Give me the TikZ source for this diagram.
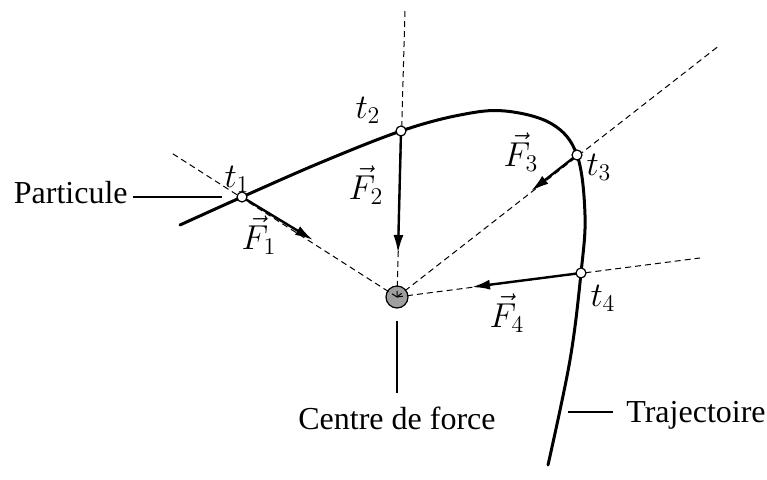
\documentclass[tikz,border=0pt]{standalone}
\usepackage{fontspec}
\setmainfont{Liberation Serif}
\usetikzlibrary{arrows.meta, calc}

\begin{document}
\begin{tikzpicture}[
  x=0.5pt, y=-0.5pt,
  >={Latex[length=9pt, width=5pt]},
  traj/.style={line width=1.5pt, line cap=round},
  axe/.style={dashed, dash pattern=on 3pt off 2pt, line width=0.5pt},
  force/.style={->, line width=1.2pt},
  pt/.style={circle, draw, fill=white, line width=0.6pt,
             inner sep=0pt, minimum size=5pt},
  lbl/.style={font=\fontsize{16}{19}\selectfont, inner sep=0pt},
  mlbl/.style={font=\fontsize{17.5}{20}\selectfont, inner sep=0pt},
  lien/.style={line width=0.6pt}
]
  \useasboundingbox (0,0) rectangle (767,480);

  %--- centre de force ---
  \node[circle, draw, fill=gray!75, line width=0.6pt, inner sep=0pt,
        minimum size=11pt] (o) at (397,297) {};

  %--- points de la trajectoire ---
  \coordinate (p1) at (242,197);
  \coordinate (p2) at (401,131);
  \coordinate (p3) at (577,155);
  \coordinate (p4) at (581,273);

  %--- droites d'action ---
  \coordinate (e1) at (170,152);
  \coordinate (e2) at (405,10);
  \coordinate (e3) at (720,45);
  \coordinate (e4) at (700,258);
  \foreach \i in {1,...,4}
    \draw[axe] (o.center) -- (e\i);

  %--- trajectoire ---
  \draw[traj] plot[smooth, tension=0.6] coordinates {
    (180,225) (p1) (322,162) (p2) (460,115) (505,111) (552,124)
    (p3) (585,215) (p4) (570,360) (548,465)};

  %--- forces ---
  \coordinate (f1) at (313,240);
  \coordinate (f2) at (398,253);
  \coordinate (f3) at (531,191);
  \coordinate (f4) at (472,287);
  \foreach \i in {1,...,4}
    \draw[force] (p\i) -- (f\i);

  \foreach \i in {1,...,4}
    \node[pt] (t\i) at (p\i) {};

  %--- labels ---
  \node[mlbl] (lt1) at (237,179) {$t_1$};
  \node[mlbl] (lt2) at (368,110) {$t_2$};
  \node[mlbl] (lt3) at (599,167) {$t_3$};
  \node[mlbl] (lt4) at (603,298) {$t_4$};
  \node[mlbl] (lf1) at (259,235) {$\vec{F}_1$};
  \node[mlbl] (lf2) at (366,185) {$\vec{F}_2$};
  \node[mlbl] (lf3) at (521,152) {$\vec{F}_3$};
  \node[mlbl] (lf4) at (507,313) {$\vec{F}_4$};

  %--- legendes ---
  \node[lbl, anchor=base east] (part) at (128,204) {Particule};
  \coordinate (part-e) at (222,197);
  \draw[lien] (133,197) -- (part-e);

  \node[lbl, anchor=base] (cdf) at (397,430) {Centre de force};
  \coordinate (cdf-n) at (397,321);
  \draw[lien] (cdf-n) -- (397,393);

  \node[lbl, anchor=base west] (traj) at (626,423) {Trajectoire};
  \coordinate (traj-w) at (568,412);
  \draw[lien] (traj-w) -- (613,412);
\end{tikzpicture}
\end{document}
